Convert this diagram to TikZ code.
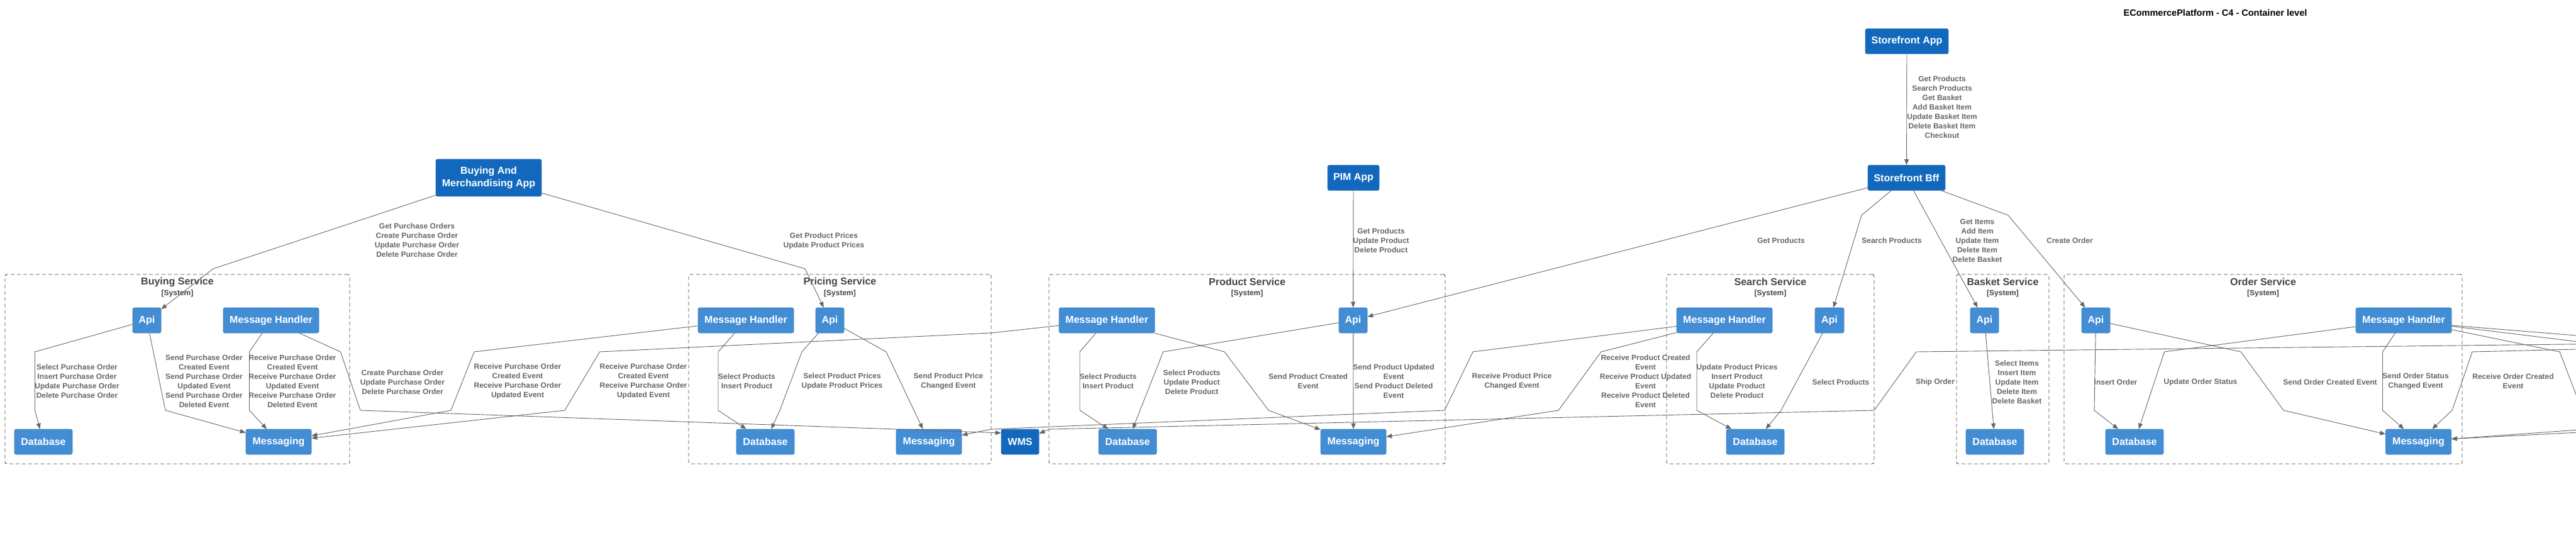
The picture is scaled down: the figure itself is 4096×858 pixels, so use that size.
\documentclass[tikz,border=0pt]{standalone}
\usepackage{fontspec}
\setmainfont{Liberation Sans}
\usetikzlibrary{arrows.meta}
\definecolor{extblue}{HTML}{1168BD}
\definecolor{contblue}{HTML}{438DD5}
\definecolor{boxborder}{HTML}{3C7FC0}
\definecolor{relgray}{HTML}{666666}
\definecolor{bndgray}{HTML}{444444}
\tikzset{
 box/.style={rectangle, rounded corners=2.5pt, draw=boxborder, line width=0.6pt, text=white, font=\bfseries\fontsize{16}{20}\selectfont, align=center, inner sep=0pt, minimum height=40pt},
 extsys/.style={box, fill=extblue},
 cont/.style={box, fill=contblue},
 bnd/.style={rectangle, draw=bndgray, line width=0.9pt, dash pattern=on 6pt off 4pt, rounded corners=3pt, inner sep=0pt},
 bndtitle/.style={text=bndgray, font=\bfseries\fontsize{16}{19}\selectfont, inner sep=0pt},
 bndtag/.style={text=bndgray, font=\bfseries\fontsize{12}{14}\selectfont, inner sep=0pt},
 rel/.style={draw=relgray, line width=0.9pt, -{Triangle[length=9pt,width=7pt]}},
 lbl/.style={text=relgray, font=\bfseries\fontsize{12}{15}\selectfont, align=center, inner sep=0pt},
}
\begin{document}
\begin{tikzpicture}[x=1pt,y=-1pt]
\clip (0,0) rectangle (4096,858);
\fill[white] (0,0) rectangle (4096,858);

% title
\node[font=\bfseries\fontsize{14.5}{17}\selectfont, inner sep=0pt] (title) at (3522.5,20) {ECommercePlatform - C4 - Container level};

% boundaries
\node[bnd, minimum width=548pt, minimum height=301pt] (buybnd) at (282,586.5) {};
\node[bnd, minimum width=481pt, minimum height=301pt] (pribnd) at (1335.5,586.5) {};
\node[bnd, minimum width=630pt, minimum height=301pt] (prodbnd) at (1983,586.5) {};
\node[bnd, minimum width=330pt, minimum height=301pt] (srchbnd) at (2815,586.5) {};
\node[bnd, minimum width=147pt, minimum height=301pt] (bskbnd) at (3184.5,586.5) {};
\node[bnd, minimum width=633pt, minimum height=301pt] (ordbnd) at (3598.5,586.5) {};

\node[bndtitle] (buyt) at (282,448) {Buying Service};
\node[bndtag] (buys) at (282,466) {[System]};
\node[bndtitle] (prit) at (1335.5,448) {Pricing Service};
\node[bndtag] (pris) at (1335.5,466) {[System]};
\node[bndtitle] (prodt) at (1983,448) {Product Service};
\node[bndtag] (prods) at (1983,466) {[System]};
\node[bndtitle] (srcht) at (2815,448) {Search Service};
\node[bndtag] (srchs) at (2815,466) {[System]};
\node[bndtitle] (bskt) at (3184.5,448) {Basket Service};
\node[bndtag] (bsks) at (3184.5,466) {[System]};
\node[bndtitle] (ordt) at (3598.5,448) {Order Service};
\node[bndtag] (ords) at (3598.5,466) {[System]};

% external systems
\node[extsys, minimum width=132pt] (sfapp) at (3032,65.7) {Storefront App};
\node[extsys, minimum width=168pt, minimum height=59pt, font=\bfseries\fontsize{16}{20}\selectfont] (bam) at (777,282.5) {Buying And\\Merchandising App};
\node[extsys, minimum width=82pt] (pim) at (2152,282.5) {PIM App};
\node[extsys, minimum width=123pt] (sfbff) at (3031.5,282.5) {Storefront Bff};
\node[extsys, minimum width=60pt] (wms) at (1622,702) {WMS};

% containers
\node[cont, minimum width=45pt] (buyapi) at (233.5,509) {Api};
\node[cont, minimum width=152pt] (buymh) at (431,509) {Message Handler};
\node[cont, minimum width=92pt] (buydb) at (69,702) {Database};
\node[cont, minimum width=104pt] (buymsg) at (443,702) {Messaging};

\node[cont, minimum width=152pt] (primh) at (1186,509) {Message Handler};
\node[cont, minimum width=45pt] (priapi) at (1319.5,509) {Api};
\node[cont, minimum width=92pt] (pridb) at (1217,702) {Database};
\node[cont, minimum width=104pt] (primsg) at (1477,702) {Messaging};

\node[cont, minimum width=152pt] (prodmh) at (1760,509) {Message Handler};
\node[cont, minimum width=45pt] (prodapi) at (2151.5,509) {Api};
\node[cont, minimum width=92pt] (proddb) at (1793,702) {Database};
\node[cont, minimum width=104pt] (prodmsg) at (2152,702) {Messaging};

\node[cont, minimum width=152pt] (srchmh) at (2742,509) {Message Handler};
\node[cont, minimum width=46pt] (srchapi) at (2909,509) {Api};
\node[cont, minimum width=92pt] (srchdb) at (2791,702) {Database};

\node[cont, minimum width=45pt] (bskapi) at (3155.5,509) {Api};
\node[cont, minimum width=92pt] (bskdb) at (3172,702) {Database};

\node[cont, minimum width=45pt] (ordapi) at (3332.5,509) {Api};
\node[cont, minimum width=152pt] (ordmh) at (3822,509) {Message Handler};
\node[cont, minimum width=92pt] (orddb) at (3394,702) {Database};
\node[cont, minimum width=104pt] (ordmsg) at (3845.5,702) {Messaging};

% off-canvas ends
\coordinate (offship) at (4400,543.3);
\coordinate (offroc) at (4400,547.6);
\coordinate (offa) at (4400,557.6);
\coordinate (offb) at (4400,579.8);
\coordinate (offc) at (4124,700);
\coordinate (offd) at (4400,661.5);
\coordinate (offe) at (4400,671.6);

% connectors: top
\draw[rel] (bam) -- (339,427) -- (buyapi);
\draw[rel] (bam) -- (1280,427) -- (priapi);
\draw[rel] (pim) -- (prodapi);
\draw[rel] (sfapp) -- (sfbff);
\draw[rel] (sfbff) -- (prodapi);
\draw[rel] (sfbff) -- (2960,342) -- (srchapi);
\draw[rel] (sfbff) -- (bskapi);
\draw[rel] (sfbff) -- (3193,342) -- (ordapi);

% buying
\draw[rel] (buyapi) -- (55.5,559) -- (55.5,652) -- (buydb);
\draw[rel] (buyapi) -- (263,652) -- (buymsg);
\draw[rel] (buymh) -- (396.5,559) -- (396.5,652) -- (buymsg);
\draw[rel] (buymh) -- (541.5,559) -- (573,652) -- (wms.155);
\draw[rel] (primh) -- (754,559) -- (717,652) -- (buymsg);
\draw[rel] (prodmh) -- (1576,529) -- (953.6,559) -- (898,652) -- (buymsg);

% pricing
\draw[rel] (primh) -- (1142,559) -- (1142,652) -- (pridb);
\draw[rel] (priapi) -- (1275,559) -- (1240,652) -- (pridb);
\draw[rel] (priapi) -- (1409,559) -- (primsg);

% product
\draw[rel] (prodmh) -- (1717,559) -- (1717,652) -- (proddb);
\draw[rel] (prodapi) -- (1849.5,559) -- (proddb);
\draw[rel] (prodapi) -- (prodmsg);
\draw[rel] (prodmh) -- (1947,559) -- (2017,652) -- (prodmsg);

% search
\draw[rel] (srchmh) -- (2342,559) -- (2297,652) -- (1576,682) -- (primsg);
\draw[rel] (srchmh) -- (2546,559) -- (2478,652) -- (prodmsg);
\draw[rel] (srchmh) -- (2698,559) -- (2698,652) -- (srchdb);
\draw[rel] (srchapi) -- (2832,652) -- (srchdb);

% basket
\draw[rel] (bskapi) -- (bskdb);

% ship order
\draw[rel] (offship) -- (3047,559) -- (2980,652) -- (1668,682) -- (wms);

% order
\draw[rel] (ordapi) -- (3330,652) -- (orddb);
\draw[rel] (ordmh) -- (3441.5,559) -- (orddb);
\draw[rel] (ordapi) -- (3563,559) -- (3631,652) -- (ordmsg);
\draw[rel] (ordmh) -- (3788.5,559) -- (3788.5,652) -- (ordmsg);
\draw[rel] (offroc) -- (3931,559) -- (3899,652) -- (ordmsg);
\draw[rel] (ordmh.-6) -- (offa);
\draw[rel] (ordmh.-7.5) -- (offb);
\draw[rel] (ordmh.-11.9) -- (4070,559) -- (offc);
\draw[rel] (offd) -- (ordmsg.5.5);
\draw[rel] (offe) -- (ordmsg.5.5);

% labels
\node[lbl] (l1) at (663,382) {Get Purchase Orders\\Create Purchase Order\\Update Purchase Order\\Delete Purchase Order};
\node[lbl] (l2) at (1310,382.5) {Get Product Prices\\Update Product Prices};
\node[lbl] (l3) at (2196,382) {Get Products\\Update Product\\Delete Product};
\node[lbl] (l4) at (3088,170) {Get Products\\Search Products\\Get Basket\\Add Basket Item\\Update Basket Item\\Delete Basket Item\\Checkout};
\node[lbl] (l5) at (2832,382) {Get Products};
\node[lbl] (l6) at (3008,382) {Search Products};
\node[lbl] (l7) at (3144,382) {Get Items\\Add Item\\Update Item\\Delete Item\\Delete Basket};
\node[lbl] (l8) at (3291,382) {Create Order};
\node[lbl] (l9) at (122.5,605.5) {Select Purchase Order\\Insert Purchase Order\\Update Purchase Order\\Delete Purchase Order};
\node[lbl] (l10) at (324.5,606) {Send Purchase Order\\Created Event\\Send Purchase Order\\Updated Event\\Send Purchase Order\\Deleted Event};
\node[lbl] (l11) at (465,606) {Receive Purchase Order\\Created Event\\Receive Purchase Order\\Updated Event\\Receive Purchase Order\\Deleted Event};
\node[lbl] (l12) at (640,607) {Create Purchase Order\\Update Purchase Order\\Delete Purchase Order};
\node[lbl] (l13) at (823,605.5) {Receive Purchase Order\\Created Event\\Receive Purchase Order\\Updated Event};
\node[lbl] (l14) at (1023,605.5) {Receive Purchase Order\\Created Event\\Receive Purchase Order\\Updated Event};
\node[lbl] (l15) at (1187.5,605.5) {Select Products\\Insert Product};
\node[lbl] (l16) at (1339,605.5) {Select Product Prices\\Update Product Prices};
\node[lbl] (l17) at (1508,605.5) {Send Product Price\\Changed Event};
\node[lbl] (l18) at (1762,605.5) {Select Products\\Insert Product};
\node[lbl] (l19) at (1895,607) {Select Products\\Update Product\\Delete Product};
\node[lbl] (l20) at (2216,605.5) {Send Product Updated\\Event\\Send Product Deleted\\Event};
\node[lbl] (l21) at (2080,605.5) {Send Product Created\\Event};
\node[lbl] (l22) at (2404,605.5) {Receive Product Price\\Changed Event};
\node[lbl] (l23) at (2616.5,606) {Receive Product Created\\Event\\Receive Product Updated\\Event\\Receive Product Deleted\\Event};
\node[lbl] (l24) at (2762,605.5) {Update Product Prices\\Insert Product\\Update Product\\Delete Product};
\node[lbl] (l25) at (2927,607) {Select Products};
\node[lbl] (l26) at (3207,607) {Select Items\\Insert Item\\Update Item\\Delete Item\\Delete Basket};
\node[lbl] (l27) at (3077,607) {Ship Order};
\node[lbl] (l28) at (3364,607) {Insert Order};
\node[lbl] (l29) at (3499,607) {Update Order Status};
\node[lbl] (l30) at (3705,607) {Send Order Created Event};
\node[lbl] (l31) at (3841,605.5) {Send Order Status\\Changed Event};
\node[lbl] (l32) at (3996,605.5) {Receive Order Created\\Event};
\end{tikzpicture}
\end{document}
